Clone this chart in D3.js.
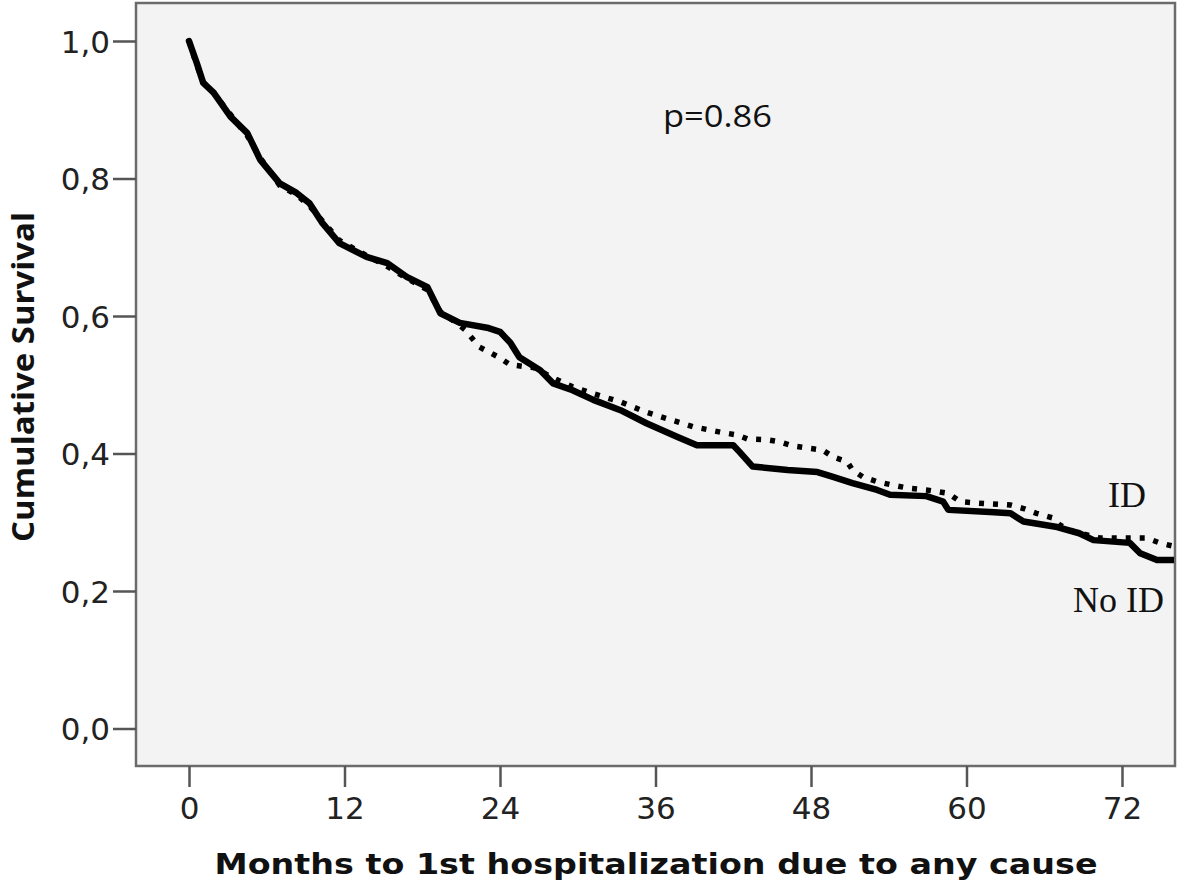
<!DOCTYPE html>
<html>
<head>
<meta charset="utf-8">
<script src="https://cdn.jsdelivr.net/npm/d3@7/dist/d3.min.js"></script>
<style>
  html, body { margin: 0; padding: 0; background: #ffffff; }
  svg { display: block; }
</style>
</head>
<body>
<svg id="chart" width="1181" height="885"></svg>
<script>
// ---- Data ----
const xTicks = [0, 12, 24, 36, 48, 60, 72];
const yTicks = [0.0, 0.2, 0.4, 0.6, 0.8, 1.0];

// "No ID" group (solid line): months, cumulative survival
const noIdMonths = [0, 0.6, 1.1, 1.9, 3.2, 4.5, 5.5, 7.0, 8.3, 9.3, 10.3, 11.6, 13.7, 15.3, 16.8, 18.4, 19.4, 20.9, 23.0, 24.0, 24.8, 25.5, 27.1, 28.1, 29.6, 31.2, 33.3, 35.3, 37.7, 39.2, 42.0, 42.5, 43.5, 44.1, 46.2, 48.5, 49.7, 51.2, 53.1, 54.1, 56.9, 58.2, 58.6, 61.8, 63.4, 64.4, 67.0, 68.7, 69.8, 72.6, 73.4, 74.7, 76.2];
const noIdSurv   = [1.000, 0.968, 0.939, 0.925, 0.890, 0.866, 0.827, 0.793, 0.779, 0.764, 0.735, 0.706, 0.686, 0.677, 0.657, 0.642, 0.604, 0.590, 0.583, 0.577, 0.561, 0.540, 0.521, 0.502, 0.492, 0.478, 0.463, 0.444, 0.424, 0.412, 0.412, 0.402, 0.381, 0.380, 0.376, 0.373, 0.366, 0.357, 0.347, 0.340, 0.338, 0.330, 0.318, 0.315, 0.313, 0.301, 0.293, 0.284, 0.274, 0.270, 0.255, 0.245, 0.245];

// "ID" group (dotted line)
const idMonths = [0, 0.6, 1.1, 2.0, 3.2, 4.5, 5.5, 7.0, 8.3, 9.3, 10.3, 11.6, 13.0, 15.3, 16.8, 18.4, 19.4, 20.5, 21.3, 22.4, 23.9, 24.8, 26.6, 28.1, 29.6, 31.2, 33.3, 35.3, 37.7, 38.9, 41.0, 42.3, 43.1, 44.6, 45.6, 46.6, 47.7, 48.9, 49.7, 50.8, 51.2, 52.0, 53.1, 54.3, 55.4, 56.9, 58.6, 59.5, 60.8, 63.4, 64.4, 65.4, 66.7, 67.2, 68.3, 70.3, 73.9, 74.9, 76.2];
const idSurv   = [1.000, 0.965, 0.940, 0.922, 0.893, 0.862, 0.830, 0.790, 0.776, 0.760, 0.738, 0.710, 0.695, 0.672, 0.655, 0.638, 0.606, 0.592, 0.580, 0.555, 0.540, 0.529, 0.525, 0.510, 0.497, 0.487, 0.475, 0.460, 0.446, 0.439, 0.431, 0.427, 0.421, 0.420, 0.417, 0.411, 0.408, 0.405, 0.395, 0.388, 0.376, 0.366, 0.359, 0.354, 0.350, 0.347, 0.342, 0.330, 0.328, 0.325, 0.320, 0.313, 0.306, 0.296, 0.286, 0.277, 0.277, 0.270, 0.264];

const groupLabels = ["ID", "No ID"];
const pValueText = "p=0.86";
const xTitle = "Months to 1st hospitalization due to any cause";
const yTitle = "Cumulative Survival";

// ---- Layout ----
const svg = d3.select("#chart");
const frame = { left: 136, right: 1175, top: 3, bottom: 766 };

const x = d3.scaleLinear().domain([0, 72]).range([189, 1122]);
const y = d3.scaleLinear().domain([0, 1]).range([728.5, 41]);

// plot background + frame
svg.append("rect")
  .attr("x", frame.left).attr("y", frame.top)
  .attr("width", frame.right - frame.left).attr("height", frame.bottom - frame.top)
  .attr("fill", "#f3f3f3").attr("stroke", "#6b6b6b").attr("stroke-width", 2.5);

svg.append("clipPath").attr("id", "clip")
  .append("rect")
  .attr("x", frame.left + 1).attr("y", frame.top + 1)
  .attr("width", frame.right - frame.left - 2).attr("height", frame.bottom - frame.top - 2);

// axes
const fmt = d => d.toFixed(1).replace(".", ",");
const yAxis = svg.append("g")
  .attr("transform", `translate(${frame.left},0)`)
  .call(d3.axisLeft(y).tickValues(yTicks).tickFormat(fmt).tickSize(23).tickPadding(3));
const xAxis = svg.append("g")
  .attr("transform", `translate(0,${frame.bottom})`)
  .call(d3.axisBottom(x).tickValues(xTicks).tickFormat(d3.format("d")).tickSize(21).tickPadding(10));

[yAxis, xAxis].forEach(g => {
  g.select(".domain").remove();
  g.selectAll(".tick line").attr("stroke", "#555").attr("stroke-width", 2.5);
  g.selectAll(".tick text")
    .attr("fill", "#222")
    .style("font-family", "'DejaVu Sans', Verdana, sans-serif")
    .style("font-size", "31px");
});
yAxis.selectAll(".tick text").attr("dy", "0.36em");

// curves
const line = d3.line()
  .x(d => x(d[0]))
  .y(d => y(d[1]))
  .curve(d3.curveLinear);

const noIdData = noIdMonths.map((t, i) => [t, noIdSurv[i]]);
const idData = idMonths.map((t, i) => [t, idSurv[i]]);

const curves = svg.append("g").attr("clip-path", "url(#clip)");
curves.append("path")
  .datum(noIdData)
  .attr("d", line)
  .attr("fill", "none").attr("stroke", "#000").attr("stroke-width", 6.5)
  .attr("stroke-linejoin", "round").attr("stroke-linecap", "round");
curves.append("path")
  .datum(idData)
  .attr("d", line)
  .attr("fill", "none").attr("stroke", "#000").attr("stroke-width", 5.5)
  .attr("stroke-dasharray", "5,9");

// texts
svg.append("text")
  .attr("x", 663).attr("y", 127)
  .attr("textLength", 109).attr("lengthAdjust", "spacingAndGlyphs")
  .style("font-family", "'Open Sans', 'Noto Sans', sans-serif")
  .style("font-size", "31px").attr("fill", "#111")
  .text(pValueText);

svg.append("text")
  .attr("x", 1108).attr("y", 507)
  .style("font-family", "'Liberation Serif', 'Times New Roman', serif")
  .style("font-size", "36px").attr("fill", "#111")
  .text(groupLabels[0]);

svg.append("text")
  .attr("x", 1073).attr("y", 612)
  .style("font-family", "'Liberation Serif', 'Times New Roman', serif")
  .style("font-size", "36px").attr("fill", "#111")
  .text(groupLabels[1]);

svg.append("text")
  .attr("x", 656).attr("y", 874)
  .attr("text-anchor", "middle")
  .attr("textLength", 883).attr("lengthAdjust", "spacingAndGlyphs")
  .style("font-family", "'DejaVu Sans', Verdana, sans-serif")
  .style("font-weight", "bold")
  .style("font-size", "29px").attr("fill", "#111")
  .text(xTitle);

svg.append("text")
  .attr("transform", "translate(34,377) rotate(-90)")
  .attr("text-anchor", "middle")
  .attr("textLength", 330).attr("lengthAdjust", "spacingAndGlyphs")
  .style("font-family", "'Open Sans', 'Noto Sans', sans-serif")
  .style("font-weight", "bold")
  .style("font-size", "31px").attr("fill", "#111")
  .text(yTitle);
</script>
</body>
</html>
